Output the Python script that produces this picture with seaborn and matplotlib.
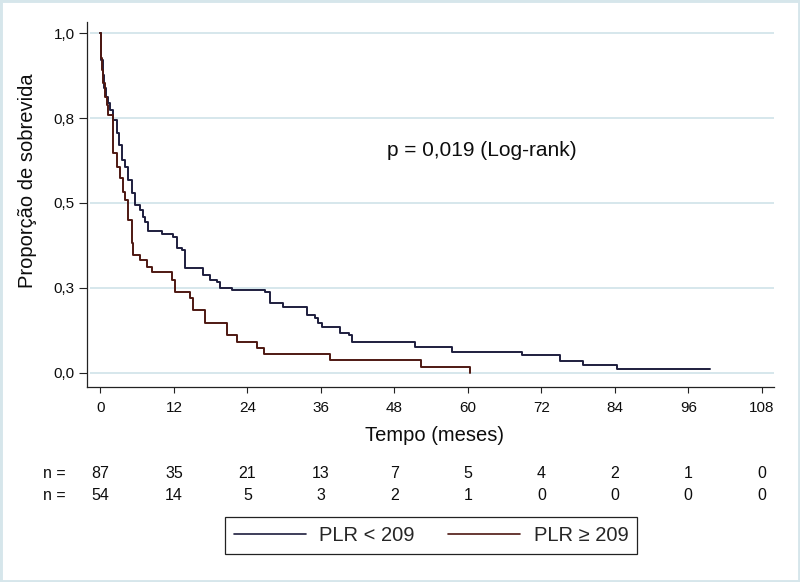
import numpy as np
import pandas as pd
import matplotlib
matplotlib.use("Agg")
import matplotlib.pyplot as plt
import seaborn as sns
from matplotlib.patches import Rectangle
from matplotlib.transforms import blended_transform_factory

# ---- data ----
time_low = [0, 0.08, 0.16, 0.33, 0.57, 0.82, 1.23, 1.55, 2.04, 2.65, 3.02, 3.46, 4.0, 4.49,
            5.10, 5.64, 6.45, 6.94, 7.27, 7.76, 10.0, 11.8, 12.45, 13.26, 13.8, 16.8, 17.9,
            19.0, 19.5, 21.4, 26.9, 27.7, 29.8, 33.7, 35.0, 35.5, 36.1, 39.1, 40.6, 41.0,
            51.4, 57.4, 68.9, 75.1, 78.8, 84.3, 99.6]
surv_low = [1.0, 0.965, 0.921, 0.877, 0.839, 0.813, 0.795, 0.774, 0.745, 0.707, 0.671, 0.627,
            0.606, 0.568, 0.529, 0.494, 0.479, 0.459, 0.444, 0.417, 0.410, 0.401, 0.367, 0.362,
            0.308, 0.288, 0.273, 0.267, 0.250, 0.244, 0.238, 0.205, 0.194, 0.170, 0.161,
            0.146, 0.135, 0.117, 0.111, 0.091, 0.076, 0.062, 0.051, 0.035, 0.023, 0.010, 0.010]

time_high = [0, 0.05, 0.11, 0.2, 0.41, 0.74, 1.01, 1.23, 2.04, 2.65, 3.19, 3.68, 4.0, 4.49,
             5.10, 5.31, 6.45, 7.55, 8.36, 11.63, 12.17, 14.62, 15.11, 17.07, 20.6, 22.25,
             25.5, 26.7, 37.5, 52.3, 60.4]
surv_high = [1.0, 0.965, 0.927, 0.892, 0.853, 0.813, 0.789, 0.759, 0.647, 0.606, 0.574, 0.532,
             0.509, 0.450, 0.382, 0.347, 0.332, 0.311, 0.297, 0.273, 0.238, 0.220, 0.185,
             0.147, 0.111, 0.090, 0.073, 0.055, 0.037, 0.018, 0.0]

group_labels = ["PLR < 209", "PLR \u2265 209"]
risk_times = [0, 12, 24, 36, 48, 60, 72, 84, 96, 108]
risk_low = [87, 35, 21, 13, 7, 5, 4, 2, 1, 0]
risk_high = [54, 14, 5, 3, 2, 1, 0, 0, 0, 0]
y_ticks = [0.0, 0.25, 0.5, 0.75, 1.0]
y_ticklabels = ["0,0", "0,3", "0,5", "0,8", "1,0"]
p_text = "p = 0,019 (Log-rank)"

# ---- style ----
sns.set_style("white")
plt.rcParams["font.family"] = ["Liberation Sans", "DejaVu Sans"]

c_low = "#1e1e3e"
c_high = "#4e1812"
grid_c = "#d3e5eb"
axis_c = "#222222"
txt_c = "#0d0d0d"

df = pd.concat([
    pd.DataFrame({"Tempo": time_low, "S": surv_low, "grupo": group_labels[0]}),
    pd.DataFrame({"Tempo": time_high, "S": surv_high, "grupo": group_labels[1]}),
], ignore_index=True)

fig = plt.figure(figsize=(8.0, 5.82), dpi=100)
fig.patch.set_facecolor("white")
fig.patches.append(Rectangle((0, 0), 1, 1, transform=fig.transFigure, fill=False,
                             edgecolor="#d6e6eb", linewidth=3.5, zorder=0))

ax = fig.add_axes([0.1084, 0.3356, 0.8591, 0.6271])
ax.set_xlim(-2.25, 110.0)
ax.set_ylim(-0.0412, 1.034)

ax.hlines(y_ticks, -1.7, 110.0, colors=grid_c, linewidth=1.3, zorder=0)

sns.lineplot(data=df, x="Tempo", y="S", hue="grupo", palette=[c_low, c_high],
             estimator=None, sort=False, drawstyle="steps-post", linewidth=1.4,
             ax=ax, legend=False)

for s in ["top", "right"]:
    ax.spines[s].set_visible(False)
for s in ["left", "bottom"]:
    ax.spines[s].set_color(axis_c)
    ax.spines[s].set_linewidth(0.9)

ax.set_xticks(risk_times)
ax.set_xticklabels([str(t) for t in risk_times])
ax.set_yticks(y_ticks)
ax.set_yticklabels(y_ticklabels)
ax.tick_params(axis="x", direction="out", length=4.5, width=0.8, color=axis_c,
               labelsize=11, pad=5.5, labelcolor=txt_c, bottom=True)
ax.tick_params(axis="y", direction="out", length=5.5, width=0.8, color=axis_c,
               labelsize=11, pad=3, labelcolor=txt_c, left=True)

ax.set_xlabel("Tempo (meses)", fontsize=14.5, color=txt_c)
ax.xaxis.set_label_coords(0.5053, -0.1077)
ax.set_ylabel("Propor\u00e7\u00e3o de sobrevida", fontsize=14.5, color=txt_c)
ax.yaxis.set_label_coords(-0.0727, 0.5636)

ax.text(62.2, 0.654, p_text, fontsize=15, ha="center", va="center", color=txt_c)

# number-at-risk table
trans = blended_transform_factory(ax.transData, fig.transFigure)
for row_y, vals in [(1 - 473 / 582, risk_low), (1 - 495 / 582, risk_high)]:
    fig.text(54 / 800, row_y, "n =", fontsize=11.5, ha="center", va="center", color=txt_c)
    for t, v in zip(risk_times, vals):
        ax.text(t, row_y, str(v), transform=trans, fontsize=11.5, ha="center",
                va="center", color=txt_c, clip_on=False)

# legend
handles = [plt.Line2D([], [], color=c_low, linewidth=1.2),
           plt.Line2D([], [], color=c_high, linewidth=1.2)]
leg = fig.legend(handles, group_labels, loc="center", bbox_to_anchor=(0.5388, 0.0801),
                 ncol=2, fontsize=14.5, frameon=True, fancybox=False, shadow=False,
                 framealpha=1, edgecolor="#222222", handlelength=3.6, handletextpad=0.65,
                 columnspacing=1.64, borderpad=0.45)
leg.get_frame().set_linewidth(0.9)

fig.savefig("out.png", dpi=100)
